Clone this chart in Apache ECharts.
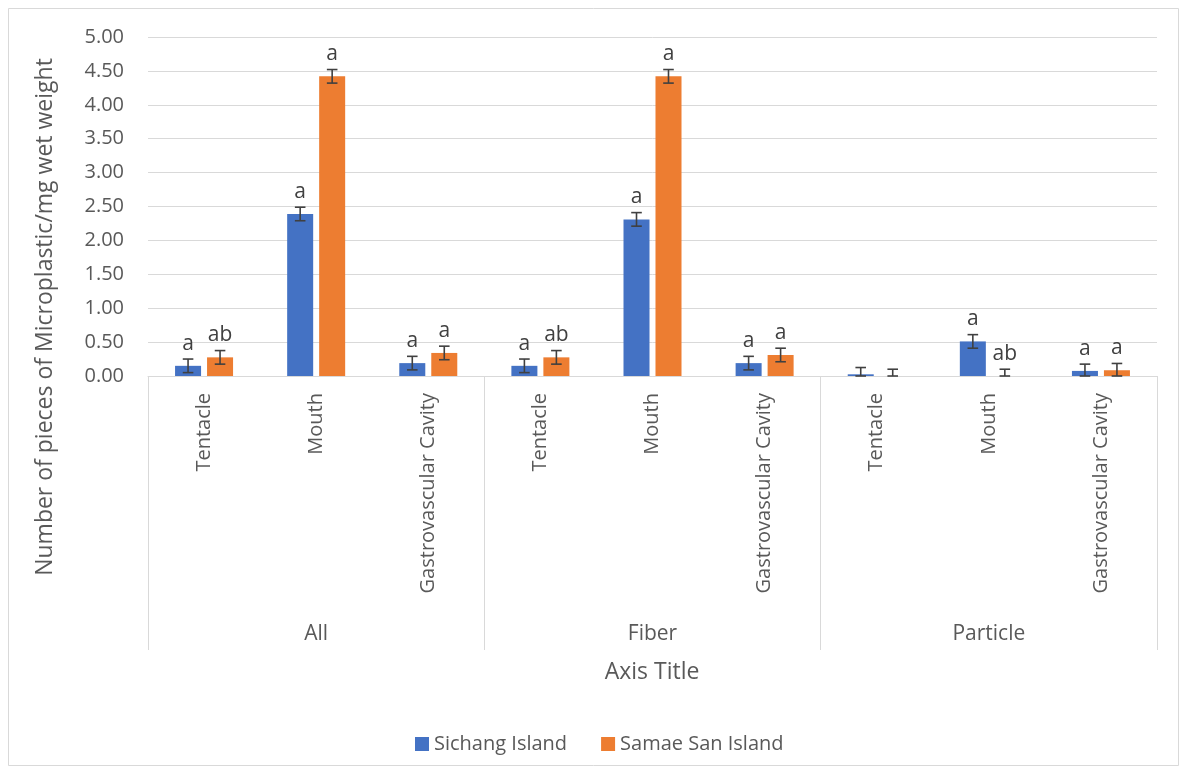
<!DOCTYPE html>
<html>
<head>
<meta charset="utf-8">
<script src="https://cdn.jsdelivr.net/npm/echarts@6/dist/echarts.min.js"></script>
<style>
html,body{margin:0;padding:0;background:#fff;}
#chart{width:1187px;height:775px;}
</style>
</head>
<body>
<div id="chart"></div>
<script>
const categories = ['Tentacle','Mouth','Gastrovascular Cavity','Tentacle','Mouth','Gastrovascular Cavity','Tentacle','Mouth','Gastrovascular Cavity'];
const groups = ['All','Fiber','Particle'];
const seriesNames = ['Sichang Island','Samae San Island'];
const sichang = [0.15, 2.39, 0.19, 0.15, 2.31, 0.19, 0.025, 0.51, 0.075];
const samae = [0.275, 4.42, 0.34, 0.275, 4.42, 0.31, 0, 0, 0.085];
const sichangErr = [0.1, 0.1, 0.1, 0.1, 0.1, 0.1, 0.1, 0.1, 0.1];
const samaeErr = [0.1, 0.1, 0.1, 0.1, 0.1, 0.1, 0.1, 0.1, 0.1];
const sichangLetters = ['a','a','a','a','a','a','','a','a'];
const samaeLetters = ['ab','a','a','ab','a','a','','ab','a'];
const yTicks = [0, 5, 0.5];
const yTitle = 'Number of pieces of Microplastic/mg wet weight';
const xTitle = 'Axis Title';

const FONT = '"Open Sans", sans-serif';
const TXT = '#595959';
const GRID = '#d9d9d9';
const COLORS = ['#4472C4', '#ED7D31'];

function errSeries(vals, errs, letters, sign) {
  return {
    type: 'custom',
    xAxisIndex: 0,
    yAxisIndex: 0,
    silent: true,
    z: 10,
    data: vals.map((v, i) => [i, v, errs[i]]),
    renderItem: function (params, api) {
      const i = api.value(0), v = api.value(1), e = api.value(2);
      const band = api.size([1, 0])[0];
      const w = band * 0.232;
      const x = api.coord([i, 0])[0] + sign * w * 1.23 / 2;
      const yTop = api.coord([i, v + e])[1];
      const yBot = api.coord([i, Math.max(0, v - e)])[1];
      const cap = 5.3;
      const st = { stroke: '#404040', lineWidth: 1.6 };
      const children = [
        { type: 'line', shape: { x1: x, y1: yTop, x2: x, y2: yBot }, style: st },
        { type: 'line', shape: { x1: x - cap, y1: yTop, x2: x + cap, y2: yTop }, style: st },
        { type: 'line', shape: { x1: x - cap, y1: yBot, x2: x + cap, y2: yBot }, style: st }
      ];
      const lab = letters[params.dataIndex];
      if (lab) {
        children.push({
          type: 'text',
          style: { text: lab, x: x, y: yTop - 5, textAlign: 'center', textVerticalAlign: 'bottom',
                   font: '21px ' + FONT, fill: '#404040' }
        });
      }
      return { type: 'group', children: children };
    }
  };
}

const chart = echarts.init(document.getElementById('chart'));
chart.setOption({
  animation: false,
  backgroundColor: '#fff',
  grid: { left: 148, right: 30, top: 37, bottom: 399, containLabel: false, outerBoundsMode: 'none' },
  legend: {
    data: seriesNames,
    left: 410, top: 729,
    icon: 'rect', itemWidth: 14, itemHeight: 14, itemGap: 34,
    textStyle: { fontFamily: FONT, fontSize: 20, color: TXT }
  },
  graphic: [
    { type: 'rect', shape: { x: 8.5, y: 8.5, width: 1170, height: 757 },
      style: { fill: 'none', stroke: GRID, lineWidth: 1 }, silent: true },
    { type: 'text', x: 652, y: 672,
      style: { text: xTitle, textAlign: 'center', textVerticalAlign: 'middle',
               font: '23px ' + FONT, fill: TXT } },
    { type: 'text', x: 45, y: 317, rotation: Math.PI / 2,
      style: { text: yTitle, textAlign: 'center', textVerticalAlign: 'middle',
               font: '23px ' + FONT, fill: TXT } }
  ],
  xAxis: [
    {
      type: 'category', data: categories, position: 'bottom',
      axisLine: { show: true, lineStyle: { color: GRID, width: 1 } },
      axisTick: { show: false },
      axisLabel: { rotate: 90, margin: 17, interval: 0, fontFamily: FONT, fontSize: 20, color: TXT },
      splitLine: { show: false }
    },
    {
      type: 'category', data: groups, position: 'bottom', gridIndex: 0,
      axisLine: { show: false },
      axisTick: { show: true, length: 274, lineStyle: { color: GRID, width: 1 } },
      axisLabel: { margin: 248, fontFamily: FONT, fontSize: 21, color: TXT },
      splitLine: { show: false }
    }
  ],
  yAxis: {
    type: 'value', min: yTicks[0], max: yTicks[1], interval: yTicks[2],
    axisLine: { show: false }, axisTick: { show: false },
    axisLabel: { margin: 24, fontFamily: FONT, fontSize: 20, color: TXT,
                 formatter: v => v.toFixed(2) },
    splitLine: { lineStyle: { color: GRID, width: 1 } }
  },
  series: [
    { name: seriesNames[0], type: 'bar', data: sichang, barWidth: '23.2%', barGap: '23%',
      itemStyle: { color: COLORS[0] }, xAxisIndex: 0 },
    { name: seriesNames[1], type: 'bar', data: samae, barWidth: '23.2%', barGap: '23%',
      itemStyle: { color: COLORS[1] }, xAxisIndex: 0 },
    errSeries(sichang, sichangErr, sichangLetters, -1),
    errSeries(samae, samaeErr, samaeLetters, 1)
  ]
});
</script>
</body>
</html>
